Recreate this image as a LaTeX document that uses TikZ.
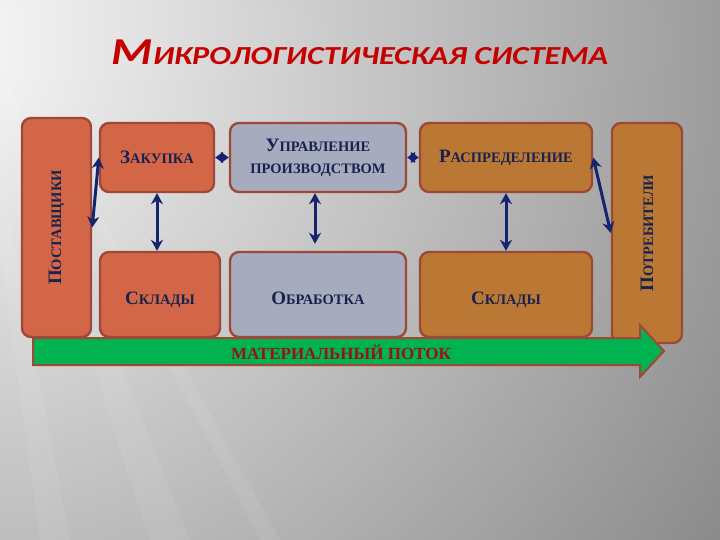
\documentclass[tikz,border=0pt]{standalone}
\usepackage{fontspec}
\setmainfont{Liberation Serif}
\newfontfamily\titlefont{Carlito}
\usetikzlibrary{arrows.meta,positioning}

\definecolor{terra}{RGB}{212,102,72}
\definecolor{bluegray}{RGB}{166,171,190}
\definecolor{ochre}{RGB}{186,120,52}
\definecolor{rim}{RGB}{158,72,56}
\definecolor{navy}{RGB}{20,36,110}
\definecolor{textblue}{RGB}{24,34,78}
\definecolor{flowgreen}{RGB}{0,178,80}
\definecolor{titlered}{RGB}{196,0,0}
\definecolor{flowred}{RGB}{150,20,20}
\definecolor{bglight}{RGB}{250,250,250}
\definecolor{bgdark}{RGB}{136,136,136}

% big first letter, rest in small capitals
\newcommand{\kap}[2]{{\fontsize{19}{21}\selectfont #1}{\fontsize{14.5}{17}\selectfont #2}}
\newcommand{\titlekap}[2]{{\fontsize{38}{40}\selectfont #1}{\fontsize{26}{30}\selectfont #2}}

\begin{document}
\begin{tikzpicture}[x=1pt,y=-1pt,
  box/.style={draw=rim, line width=2.4pt, rounded corners=9pt, text=textblue,
    font=\bfseries, align=center, inner sep=0pt},
  lower/.style={text height=20pt, text depth=0pt},
  link/.style={navy, line width=3pt, {Stealth[length=11pt,width=12pt]}-{Stealth[length=11pt,width=12pt]}},
  knot/.style={navy, line width=1pt, {Triangle[length=8pt,width=11pt]}-{Triangle[length=8pt,width=11pt]}}]

  % background
  \begin{scope}
    \clip (0,0) rectangle (720,540);
    \shade[inner color=bglight, outer color=bgdark] (-60,40) circle (950);
    \foreach \a/\b in {40/70,150/190,260/280}
      \fill[white, opacity=0.07] (-40,-40) -- (\a,540) -- (\b,540) -- cycle;
  \end{scope}
  \useasboundingbox (0,0) rectangle (720,540);

  % title
  \node[text=titlered, font=\titlefont\bfseries\itshape] (title) at (360,52)
    {\scalebox{1.24}[1]{\titlekap{М}{ИКРОЛОГИСТИЧЕСКАЯ СИСТЕМА}}};

  % blocks
  \node[box, fill=terra, minimum width=219, minimum height=69, rotate=90] (postav) at (56.5,227.5)
    {\kap{П}{ОСТАВЩИКИ}};
  \node[box, fill=terra, minimum width=114, minimum height=69] (zak) at (157,157.5)
    {\kap{З}{АКУПКА}};
  \node[box, fill=bluegray, minimum width=176, minimum height=69] (upr) at (318,157.5)
    {\kap{У}{ПРАВЛЕНИЕ}\\[10pt]\kap{}{ПРОИЗВОДСТВОМ}};
  \node[box, fill=ochre, minimum width=172, minimum height=69] (raspr) at (506,157.5)
    {\kap{Р}{АСПРЕДЕЛЕНИЕ}};
  \node[box, fill=ochre, minimum width=220, minimum height=70, rotate=90] (potreb) at (647,233)
    {\kap{П}{ОТРЕБИТЕЛИ}};
  \node[box, lower, fill=terra, minimum width=120, minimum height=85] (sklad_1) at (160,294.5)
    {\kap{С}{КЛАДЫ}};
  \node[box, lower, fill=bluegray, minimum width=176, minimum height=85] (obrab) at (318,294.5)
    {\kap{О}{БРАБОТКА}};
  \node[box, lower, fill=ochre, minimum width=172, minimum height=85] (sklad_2) at (506,294.5)
    {\kap{С}{КЛАДЫ}};

  % material flow
  \draw[rim, fill=flowgreen, line width=2pt] (33,338) -- (640,338) -- (640,325) -- (664,351)
    -- (640,377) -- (640,365) -- (33,365) -- cycle;
  \node[text=flowred, font=\bfseries\fontsize{17}{19}\selectfont] (flowtext) at (341,352)
    {МАТЕРИАЛЬНЫЙ ПОТОК};

  % links
  \draw[link] (postav.south) -- (zak.west);
  \draw[knot] (zak.east) -- (upr.west);
  \draw[knot] (upr.east) -- (raspr.west);
  \draw[link] (zak.south) -- (zak.south |- sklad_1.north);
  \draw[link, shorten >=7pt] ([xshift=-3pt]upr.south) -- ([xshift=-3pt]obrab.north);
  \draw[link] (raspr.south) -- (sklad_2.north);
  \draw[link] (raspr.east) -- (potreb.north);
\end{tikzpicture}
\end{document}
